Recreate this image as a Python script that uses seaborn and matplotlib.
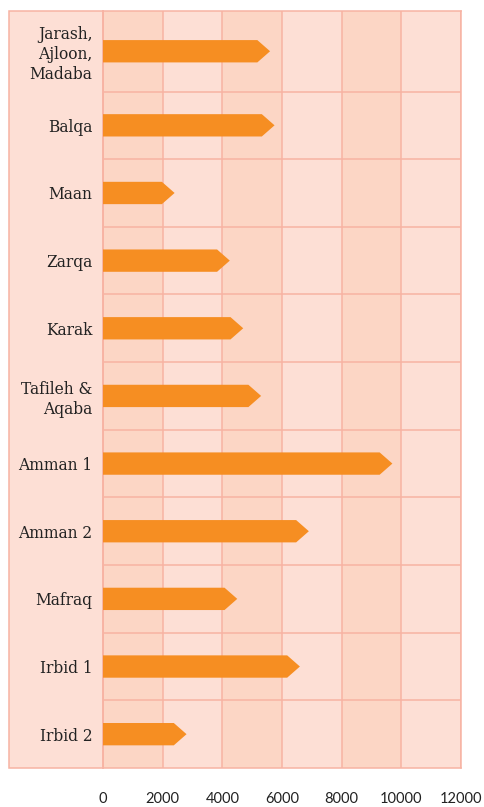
import numpy as np
import pandas as pd
import seaborn as sns
import matplotlib.pyplot as plt
from matplotlib.patches import Polygon, Rectangle

# ---- data ----
regions = ["Jarash,\nAjloon,\nMadaba", "Balqa", "Maan", "Zarqa", "Karak",
           "Tafileh &\nAqaba", "Amman 1", "Amman 2", "Mafraq", "Irbid 1", "Irbid 2"]
values = [5600, 5750, 2400, 4250, 4700, 5300, 9700, 6900, 4500, 6600, 2800]
x_ticks = [0, 2000, 4000, 6000, 8000, 10000, 12000]
x_tick_labels = ["0", "2000", "4000", "6000", "8000", "10000", "12000"]

# ---- style ----
LIGHT = "#fddfd5"
DARK = "#fcd6c5"
LINE = "#f7b3a3"
ORANGE = "#f68e22"
TEXT = "#222222"

sns.set_theme(style="white")
plt.rcParams["font.family"] = ["DejaVu Sans"]

W, H = 485, 807
fig = plt.figure(figsize=(W / 100, H / 100), dpi=100)
ax_l, ax_r, ax_t, ax_b = 103, 461, 11, 768
ax = fig.add_axes([ax_l / W, (H - ax_b) / H, (ax_r - ax_l) / W, (ax_b - ax_t) / H])
ax.set_facecolor(LIGHT)

df = pd.DataFrame({"region": regions, "value": values})
sns.barplot(data=df, x="value", y="region", orient="h", width=0.33,
            color=ORANGE, saturation=1, ax=ax, zorder=3)

n = len(regions)
top = -0.69
ax.set_xlim(0, 12000)
ax.set_ylim(n - 0.5, top)

edges = [top] + [i + 0.5 for i in range(n)]
centers = [(edges[i] + edges[i + 1]) / 2 for i in range(n)]

# replace rectangles with arrow-shaped polygons
bars = list(ax.patches)
for i, p in enumerate(bars):
    v = p.get_width()
    h = p.get_height()
    yc = centers[i]
    h_px = abs(ax.transData.transform((0, h))[1] - ax.transData.transform((0, 0))[1])
    tip_px = h_px * 0.57
    tip = tip_px * (12000 / (ax_r - ax_l))
    verts = [(0, yc - h / 2), (v - tip, yc - h / 2), (v, yc),
             (v - tip, yc + h / 2), (0, yc + h / 2)]
    p.remove()
    ax.add_patch(Polygon(verts, closed=True, facecolor=ORANGE, edgecolor="none", zorder=3))

# alternating column shading
for a in range(0, 12000, 4000):
    ax.axvspan(a, a + 2000, color=DARK, lw=0, zorder=0)

# grid lines
for xt in x_ticks:
    ax.axvline(xt, color=LINE, lw=1.1, zorder=1)
for e in edges[1:-1]:
    ax.axhline(e, color=LINE, lw=1.1, zorder=1)

for s in ax.spines.values():
    s.set_color(LINE)
    s.set_linewidth(1.1)

# label column
lab_w = (ax_l - 9) / (ax_r - ax_l)
ax.add_patch(Rectangle((-lab_w, 0), lab_w, 1, transform=ax.transAxes, clip_on=False,
                       facecolor=LIGHT, edgecolor=LINE, lw=1.1, zorder=0))

ax.set_xticks(x_ticks, labels=x_tick_labels)
ax.set_yticks(centers, labels=regions)
ax.set_xlabel("")
ax.set_ylabel("")
ax.tick_params(axis="x", length=0, pad=17, labelsize=10.5, labelcolor=TEXT)
ax.tick_params(axis="y", length=0, pad=7.5, labelsize=11.2, labelcolor=TEXT)
for t in ax.get_xticklabels():
    t.set_fontfamily(["Lato", "DejaVu Sans"])
for t in ax.get_yticklabels():
    t.set_fontfamily(["DejaVu Serif"])
    t.set_multialignment("right")
    t.set_linespacing(1.2)

fig.savefig("out.png", dpi=100, facecolor="white")
